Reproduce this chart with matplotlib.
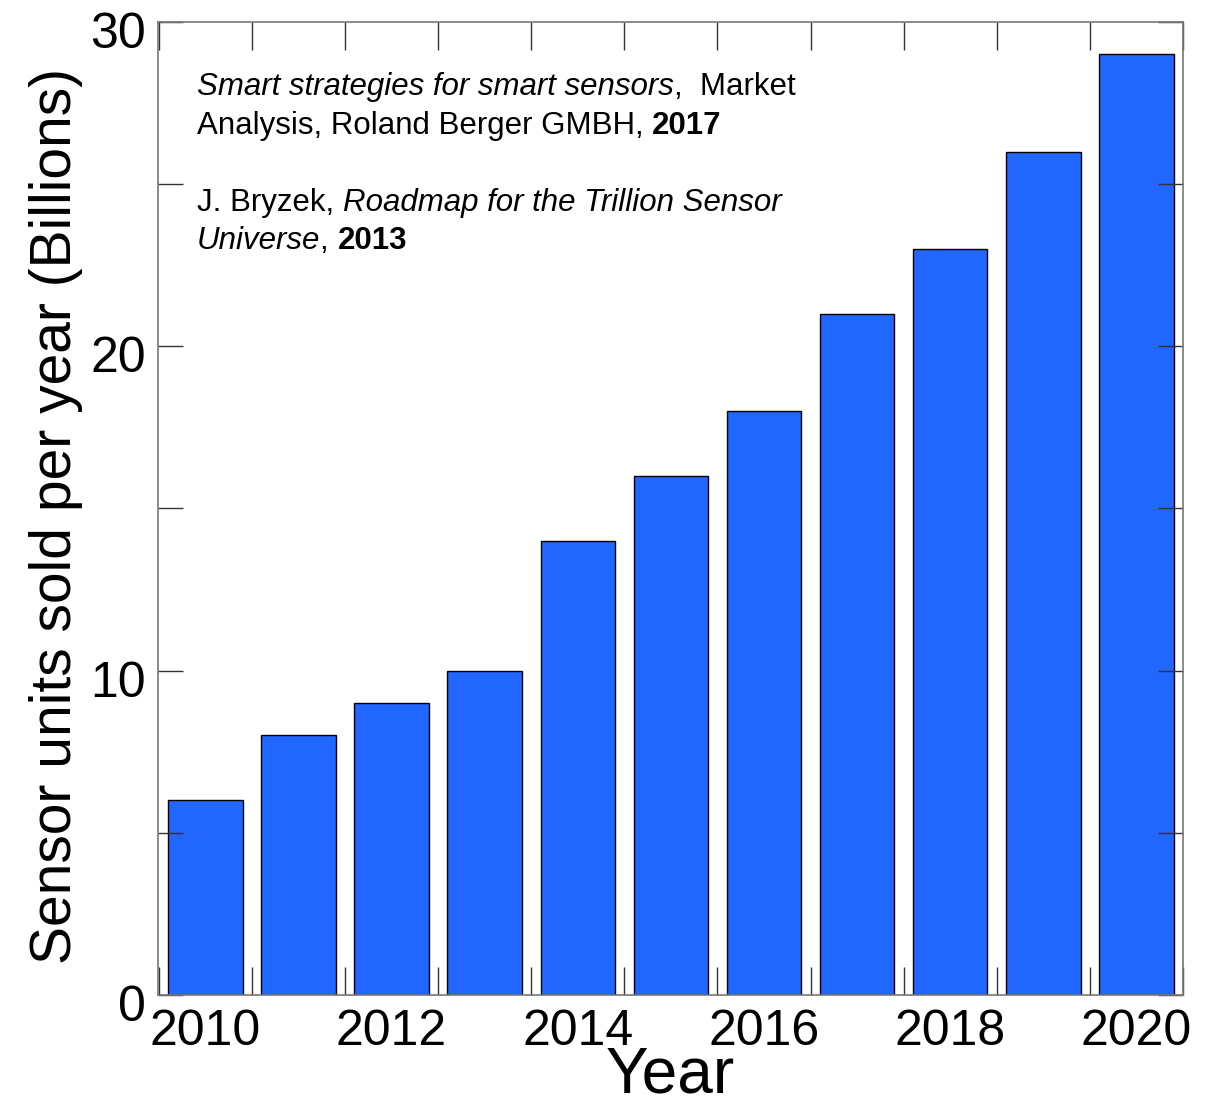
import matplotlib
matplotlib.use('Agg')
import matplotlib.pyplot as plt
from matplotlib.ticker import MultipleLocator, FixedLocator, NullFormatter
from matplotlib.transforms import ScaledTranslation

plt.rcParams['font.family'] = ['Liberation Sans', 'DejaVu Sans']

# data
years = [2010, 2011, 2012, 2013, 2014, 2015, 2016, 2017, 2018, 2019, 2020]
units = [6, 8, 9, 10, 14, 16, 18, 21, 23, 26, 29]
label_years = [2010, 2012, 2014, 2016, 2018, 2020]
y_ticks = [0, 10, 20, 30]

ref_lines = [
    [('Smart strategies for smart sensors', 'italic', 'normal'),
     (',  Market', 'normal', 'normal')],
    [('Analysis, Roland Berger GMBH, ', 'normal', 'normal'),
     ('2017', 'normal', 'bold')],
    [('J. Bryzek, ', 'normal', 'normal'),
     ('Roadmap for the Trillion Sensor', 'italic', 'normal')],
    [('Universe', 'italic', 'normal'),
     (', ', 'normal', 'normal'),
     ('2013', 'normal', 'bold')],
]
line_y = [0.933, 0.893, 0.814, 0.775]

fig = plt.figure(figsize=(12.14, 11.0), dpi=100)
ax = fig.add_axes([0.130, 0.0955, 0.8445, 0.8845])

ax.bar(years, units, width=0.8, color='#2167ff', edgecolor='black', linewidth=1.0)

ax.set_xlim(2009.49, 2020.5)
ax.set_ylim(0, 30)

ax.xaxis.set_major_locator(FixedLocator(label_years))
ax.xaxis.set_minor_locator(MultipleLocator(1, offset=0.5))
ax.xaxis.set_minor_formatter(NullFormatter())
ax.yaxis.set_major_locator(FixedLocator(y_ticks))
ax.yaxis.set_minor_locator(MultipleLocator(5))

ax.tick_params(axis='x', which='major', length=0, labelsize=36, pad=10)
ax.tick_params(axis='x', which='minor', direction='in', length=20, width=1,
               color='#333333', top=True, bottom=True)
ax.tick_params(axis='y', which='both', direction='in', length=18, width=1,
               color='#333333', left=True, right=True, labelsize=36, pad=8.5)

for s in ax.spines.values():
    s.set_color('#777777')
    s.set_linewidth(1.2)

ax.set_xlabel('Year', fontsize=46, labelpad=-7)
ax.set_ylabel('Sensor units sold per year (Billions)', fontsize=41, labelpad=5)
ax.yaxis.label.set_y(0.492)

# y tick labels sit a little low in the original
shift = ScaledTranslation(0, -8 / 100, fig.dpi_scale_trans)
for lab in ax.get_yticklabels():
    lab.set_transform(lab.get_transform() + shift)

# reference text, pieces placed one after another on each line
fig.canvas.draw()
renderer = fig.canvas.get_renderer()
x0 = 0.038
for pieces, yy in zip(ref_lines, line_y):
    xx = x0
    for txt, style, weight in pieces:
        t = ax.text(xx, yy, txt, transform=ax.transAxes, fontsize=22.5,
                    style=style, weight=weight, va='center', ha='left')
        bb = t.get_window_extent(renderer=renderer)
        xx = ax.transAxes.inverted().transform((bb.x1, bb.y0))[0]

fig.savefig('out.png', dpi=100)
